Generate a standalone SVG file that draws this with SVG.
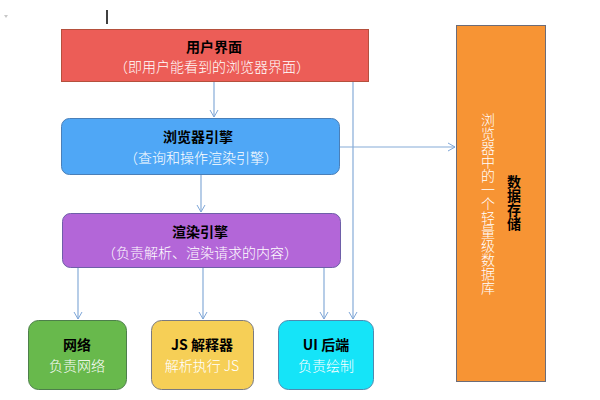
<svg xmlns="http://www.w3.org/2000/svg" width="600" height="400" viewBox="0 0 600 400">
<defs>
<marker id="arr" markerWidth="10" markerHeight="10" refX="8" refY="5" orient="auto" markerUnits="userSpaceOnUse">
<path d="M1,1 L8,5 L1,9" fill="none" stroke="#7ea6d8" stroke-width="1"/>
</marker>
<style>
text{font-family:"Noto Sans CJK SC","Liberation Sans",sans-serif;text-anchor:middle}
.t{font-size:14px;font-weight:bold;fill:#000}
.s{font-size:14px;fill:#fff;font-weight:300}
.c{fill:none;stroke:#86acd8;stroke-width:1.2}
.ca{fill:none;stroke:#86acd8;stroke-width:1.2;marker-end:url(#arr)}
</style>
</defs>
<rect width="600" height="400" fill="#fff"/>
<line x1="107" y1="10" x2="107" y2="24" stroke="#000" stroke-width="1.5"/>
<path d="M4,15 L8,15 L6,18 Z" fill="#c8c8c8"/>
<g id="connectors">
<path class="ca" d="M214,81 V117"/>
<path class="ca" d="M201,175 V212"/>
<path class="ca" d="M339,147 H455"/>
<path class="c" d="M353,81 V147"/>
<path class="ca" d="M353,147 V319"/>
<path class="ca" d="M78,267 V319"/>
<path class="ca" d="M203,267 V319"/>
<path class="ca" d="M324,267 V319"/>
</g>
<g id="ui">
<rect x="61.5" y="29.5" width="307" height="52" fill="#ec5d57" stroke="#b5503d"/>
<text class="t" x="214" y="52">用户界面</text>
<text class="s" x="212" y="72">（即用户能看到的浏览器界面）</text>
</g>
<g id="browser-engine">
<rect x="61.5" y="118.5" width="278" height="56" rx="8" fill="#4fa7f6" stroke="#4a7fb8"/>
<text class="t" x="198" y="142">浏览器引擎</text>
<text class="s" x="201" y="163">（查询和操作渲染引擎）</text>
</g>
<g id="render-engine">
<rect x="62.5" y="213.5" width="278" height="54" rx="8" fill="#b366d8" stroke="#6e5fa8"/>
<text class="t" x="200" y="237">渲染引擎</text>
<text class="s" x="200" y="258">（负责解析、渲染请求的内容）</text>
</g>
<g id="storage">
<rect x="456.5" y="25.5" width="89" height="356" fill="#f79434" stroke="#6c6c78"/>
<text class="s" x="488" y="113" style="writing-mode:vertical-rl;text-anchor:start">浏览器中的一个轻量级数据库</text>
<text class="t" x="514" y="175" style="writing-mode:vertical-rl;text-anchor:start">数据存储</text>
</g>
<g id="network">
<rect x="28.5" y="320.5" width="98" height="69" rx="10" fill="#68b94c" stroke="#4d7f4a"/>
<text class="t" x="77" y="350">网络</text>
<text class="s" x="77" y="371">负责网络</text>
</g>
<g id="js">
<rect x="151.5" y="320.5" width="102" height="69" rx="10" fill="#f6cf56" stroke="#7a7a80"/>
<text class="t" x="202" y="350">JS  解释器</text>
<text class="s" x="202" y="371">解析执行 JS</text>
</g>
<g id="ui-backend">
<rect x="278.5" y="320.5" width="95" height="69" rx="10" fill="#15e4f8" stroke="#4e8ab0"/>
<text class="t" x="326" y="350">UI 后端</text>
<text class="s" x="326" y="371">负责绘制</text>
</g>
</svg>
